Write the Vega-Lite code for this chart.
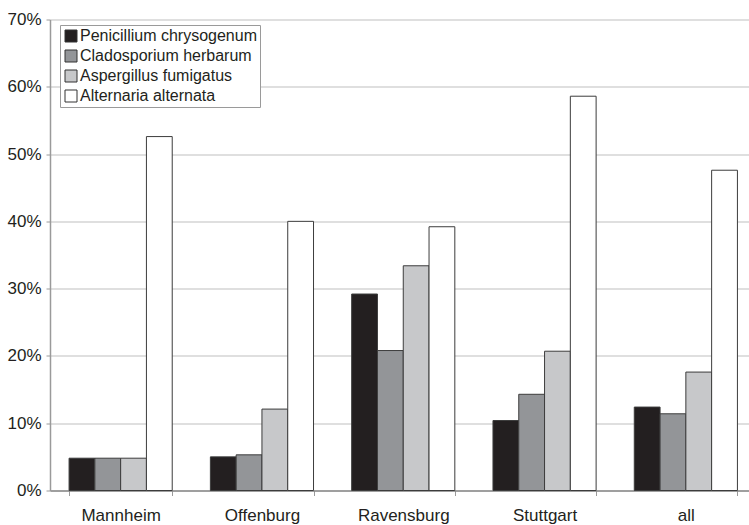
{
  "$schema": "https://vega.github.io/schema/vega-lite/v6.json",
  "width": 699,
  "height": 471,
  "autosize": {"type": "none"},
  "padding": {"left": 50, "top": 19.5, "right": 0, "bottom": 34.5},
  "background": "white",
  "data": {
    "values": [
      {"city": "Mannheim", "species": "Penicillium chrysogenum", "share": 0.048},
      {"city": "Mannheim", "species": "Cladosporium herbarum", "share": 0.048},
      {"city": "Mannheim", "species": "Aspergillus fumigatus", "share": 0.048},
      {"city": "Mannheim", "species": "Alternaria alternata", "share": 0.526},
      {"city": "Offenburg", "species": "Penicillium chrysogenum", "share": 0.050},
      {"city": "Offenburg", "species": "Cladosporium herbarum", "share": 0.053},
      {"city": "Offenburg", "species": "Aspergillus fumigatus", "share": 0.121},
      {"city": "Offenburg", "species": "Alternaria alternata", "share": 0.400},
      {"city": "Ravensburg", "species": "Penicillium chrysogenum", "share": 0.292},
      {"city": "Ravensburg", "species": "Cladosporium herbarum", "share": 0.208},
      {"city": "Ravensburg", "species": "Aspergillus fumigatus", "share": 0.334},
      {"city": "Ravensburg", "species": "Alternaria alternata", "share": 0.392},
      {"city": "Stuttgart", "species": "Penicillium chrysogenum", "share": 0.104},
      {"city": "Stuttgart", "species": "Cladosporium herbarum", "share": 0.143},
      {"city": "Stuttgart", "species": "Aspergillus fumigatus", "share": 0.207},
      {"city": "Stuttgart", "species": "Alternaria alternata", "share": 0.586},
      {"city": "all", "species": "Penicillium chrysogenum", "share": 0.124},
      {"city": "all", "species": "Cladosporium herbarum", "share": 0.114},
      {"city": "all", "species": "Aspergillus fumigatus", "share": 0.176},
      {"city": "all", "species": "Alternaria alternata", "share": 0.476}
    ]
  },
  "mark": {"type": "bar", "stroke": "#3c3c3c", "strokeWidth": 1},
  "encoding": {
    "x": {
      "field": "city",
      "type": "nominal",
      "sort": ["Mannheim", "Offenburg", "Ravensburg", "Stuttgart", "all"],
      "scale": {"range": [0, 706.5], "paddingInner": 0.27, "paddingOuter": 0.135},
      "axis": {
        "title": null,
        "labelAngle": 0,
        "labelFont": "Liberation Sans",
        "labelFontSize": 17,
        "labelColor": "#231f20",
        "labelPadding": 12,
        "domainColor": "#8a8a8a",
        "domainWidth": 1.5,
        "tickColor": "#9a9a9a",
        "tickSize": 5,
        "tickBand": "extent",
        "grid": false
      }
    },
    "xOffset": {
      "field": "species",
      "type": "nominal",
      "sort": ["Penicillium chrysogenum", "Cladosporium herbarum", "Aspergillus fumigatus", "Alternaria alternata"],
      "scale": {"paddingInner": 0, "paddingOuter": 0}
    },
    "y": {
      "field": "share",
      "type": "quantitative",
      "scale": {"domain": [0, 0.7], "nice": false},
      "axis": {
        "title": null,
        "format": ".0%",
        "values": [0, 0.1, 0.2, 0.3, 0.4, 0.5, 0.6, 0.7],
        "labelFont": "Liberation Sans",
        "labelFontSize": 17,
        "labelColor": "#231f20",
        "labelPadding": 5,
        "tickSize": 4,
        "tickColor": "#9a9a9a",
        "domainColor": "#9a9a9a",
        "domainWidth": 1.5,
        "gridColor": "#d4d4d4",
        "gridWidth": 1.5
      }
    },
    "color": {
      "field": "species",
      "type": "nominal",
      "sort": ["Penicillium chrysogenum", "Cladosporium herbarum", "Aspergillus fumigatus", "Alternaria alternata"],
      "scale": {
        "domain": ["Penicillium chrysogenum", "Cladosporium herbarum", "Aspergillus fumigatus", "Alternaria alternata"],
        "range": ["#231f20", "#939598", "#c7c8ca", "#ffffff"]
      },
      "legend": {
        "title": null,
        "orient": "none",
        "legendX": 10,
        "legendY": 5.5,
        "symbolType": "square",
        "symbolSize": 144,
        "symbolStrokeColor": "#333333",
        "symbolStrokeWidth": 1,
        "symbolOpacity": 1,
        "labelFont": "Liberation Sans",
        "labelFontSize": 16,
        "labelLimit": 0,
        "labelColor": "#231f20",
        "labelOffset": 1,
        "rowPadding": 4,
        "padding": 3,
        "strokeColor": "#9a9a9a",
        "fillColor": "white"
      }
    }
  },
  "config": {
    "view": {"stroke": null}
  }
}
